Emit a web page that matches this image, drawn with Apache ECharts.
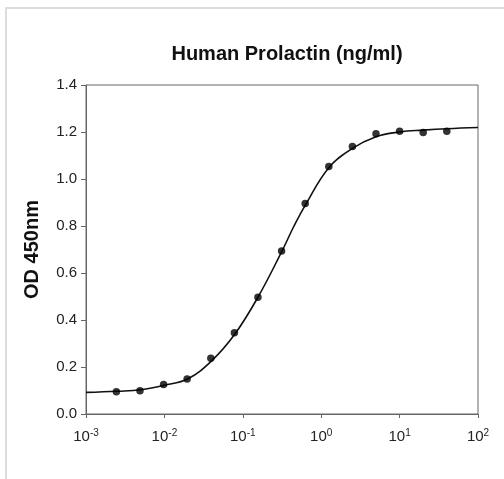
<!DOCTYPE html>
<html>
<head>
<meta charset="utf-8">
<script src="https://cdn.jsdelivr.net/npm/echarts@6/dist/echarts.min.js"></script>
<style>
html,body{margin:0;padding:0;background:#fff;}
#c{width:504px;height:479px;}
</style>
</head>
<body>
<div id="c"></div>
<script>
// Measured standards (concentration ng/ml, OD 450nm)
var concentrations = [0.00244, 0.00488, 0.00977, 0.0195, 0.0391, 0.0781, 0.156, 0.3125, 0.625, 1.25, 2.5, 5, 10, 20, 40];
var odValues = [0.095, 0.099, 0.126, 0.149, 0.237, 0.346, 0.497, 0.694, 0.896, 1.053, 1.138, 1.193, 1.203, 1.198, 1.203];
// Fitted curve
var curveX = [0.001, 0.0025, 0.005, 0.01, 0.02, 0.04, 0.078, 0.156, 0.3125, 0.45, 0.625, 1.25, 2.5, 5, 10, 20, 40, 100];
var curveY = [0.092, 0.097, 0.103, 0.122, 0.150, 0.226, 0.337, 0.497, 0.690, 0.800, 0.888, 1.048, 1.130, 1.180, 1.200, 1.208, 1.214, 1.219];
var yTicks = ['0.0', '0.2', '0.4', '0.6', '0.8', '1.0', '1.2', '1.4'];
var titleText = 'Human Prolactin (ng/ml)';
var yName = 'OD 450nm';

var chart = echarts.init(document.getElementById('c'), null, {renderer: 'canvas'});
var font = 'Liberation Sans, Arial, sans-serif';
var option = {
  animation: false,
  backgroundColor: '#fff',
  graphic: [{
    type: 'rect', silent: true,
    shape: {x: 6, y: 8, width: 700, height: 700},
    style: {fill: 'none', stroke: '#dcdcdc', lineWidth: 2}
  }],
  title: {
    text: titleText, left: 282, top: 39, textAlign: 'center',
    textStyle: {fontFamily: font, fontSize: 20, fontWeight: 'bold', color: '#111'}
  },
  grid: {left: 86, top: 85, right: 26, bottom: 65, show: true, borderColor: '#666', borderWidth: 1, backgroundColor: 'transparent'},
  xAxis: {
    type: 'log', logBase: 10, min: 0.001, max: 100,
    axisLine: {lineStyle: {color: '#666'}},
    axisTick: {inside: false, length: 4, lineStyle: {color: '#666'}},
    minorTick: {show: false},
    splitLine: {show: false},
    axisLabel: {
      margin: 14,
      formatter: function (v) {
        var e = Math.round(Math.log10(v));
        return '{b|10}{s|' + e + '}';
      },
      rich: {
        b: {fontFamily: font, fontSize: 15, color: '#222', lineHeight: 16, verticalAlign: 'bottom'},
        s: {fontFamily: font, fontSize: 10, color: '#222', lineHeight: 16, verticalAlign: 'top', padding: [0, 0, 6, 0]}
      }
    }
  },
  yAxis: {
    type: 'value', min: 0, max: 1.4, interval: 0.2,
    name: yName, nameLocation: 'middle', nameGap: 44, nameRotate: 90,
    nameTextStyle: {fontFamily: font, fontSize: 20, fontWeight: 'bold', color: '#111'},
    axisLine: {show: true, lineStyle: {color: '#666'}},
    axisTick: {show: true, inside: false, length: 5, lineStyle: {color: '#666'}},
    splitLine: {show: false},
    axisLabel: {
      margin: 9,
      fontFamily: font, fontSize: 15, color: '#222',
      formatter: function (v) { return yTicks[Math.round(v / 0.2)]; }
    }
  },
  series: [
    {
      type: 'line', name: 'fit',
      data: curveX.map(function (x, i) { return [x, curveY[i]]; }),
      smooth: 0.4, showSymbol: false, symbol: 'none',
      lineStyle: {color: '#111', width: 1.6},
      z: 2
    },
    {
      type: 'scatter', name: 'standards',
      data: concentrations.map(function (x, i) { return [x, odValues[i]]; }),
      symbol: 'circle', symbolSize: 7.5,
      itemStyle: {color: '#000'},
      z: 3
    }
  ]
};
chart.setOption(option);
</script>
</body>
</html>
